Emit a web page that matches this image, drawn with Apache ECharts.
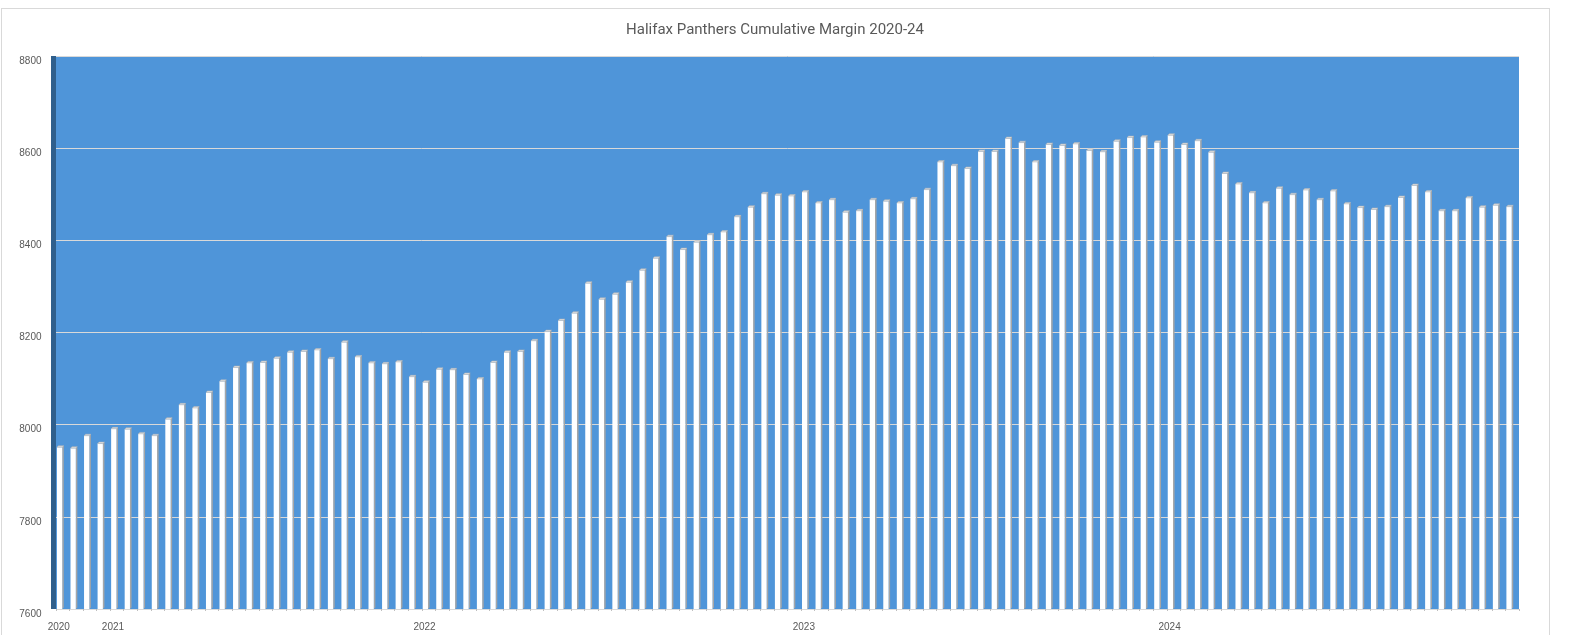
<!DOCTYPE html>
<html>
<head>
<meta charset="utf-8">
<script src="https://cdn.jsdelivr.net/npm/echarts@6/dist/echarts.min.js"></script>
<style>
  html, body { margin: 0; padding: 0; background: #fff; }
  #frame { position: absolute; left: 1px; top: 8px; width: 1549px; height: 700px; border: 1px solid #d9d9d9; box-sizing: border-box; }
  #chart { position: absolute; left: 0; top: 0; width: 1583px; height: 635px; }
</style>
</head>
<body>
<div id="frame"></div>
<div id="chart"></div>
<script>
// cumulative margin after each game, one array per season
const years = ['2020', '2021', '2022', '2023', '2024']
const margin2020 = [7951, 7949, 7976, 7959]
const margin2021 = [7991, 7990, 7980, 7976, 8012, 8043, 8036, 8070, 8094, 8124, 8134, 8135, 8144, 8157,
  8159, 8162, 8143, 8179, 8147, 8134, 8132, 8136, 8104]
const margin2022 = [8092, 8120, 8119, 8109, 8099, 8135, 8157, 8159, 8182,
  8202, 8226, 8242, 8307, 8272, 8283, 8309, 8335, 8361, 8408, 8380, 8396, 8412, 8418, 8451, 8472, 8501, 8498, 8496]
const margin2023 = [8505, 8481, 8488, 8461, 8464, 8488, 8485, 8481, 8490, 8510, 8570, 8562, 8556, 8593, 8593, 8621, 8612,
  8570, 8608, 8606, 8609, 8595, 8592, 8615, 8623, 8624, 8613]
const margin2024 = [8628, 8608, 8616, 8591, 8545, 8522, 8503, 8481,
  8513, 8499, 8509, 8488, 8507, 8479, 8471, 8467, 8473, 8493, 8519, 8505, 8464, 8464, 8492, 8472, 8476, 8473]
const yTicks = { min: 7600, max: 8800, step: 200 }

const seasons = [margin2020, margin2021, margin2022, margin2023, margin2024]

// one category per game, labelled with the year only on the season's first game
const categories = []
const values = []
seasons.forEach((games, s) => {
  games.forEach((v, g) => {
    categories.push(years[s] + '-' + (g + 1))
    values.push(v)
  })
})

const chart = echarts.init(document.getElementById('chart'))

// white column with a grey side face and a small cap, like the excel 3d column
const renderBar = (params, api) => {
  const idx = api.value(0)
  const top = api.coord([idx, api.value(1)])
  const base = api.coord([idx, yTicks.min])
  const band = api.size([1, 0])[0]
  const cx = top[0]
  const fl = cx - band * 0.43
  const fr = cx - band * 0.04
  const sr = cx + band * 0.075
  const d = 1.5
  return {
    type: 'group',
    children: [
      { type: 'polygon', shape: { points: [[fr, top[1]], [sr, top[1] - d], [sr, base[1] - d], [fr, base[1]]] }, style: { fill: '#a6a6a6' } },
      { type: 'rect', shape: { x: fl, y: top[1], width: fr - fl, height: base[1] - top[1] }, style: { fill: '#ffffff' } },
      { type: 'polygon', shape: { points: [[fl, top[1]], [fr, top[1]], [sr, top[1] - d], [fl + (sr - fr), top[1] - d]] }, style: { fill: '#dedede', stroke: '#b5b5b5', lineWidth: 0.5 } }
    ]
  }
}

const option = {
  animation: false,
  title: {
    text: 'Halifax Panthers Cumulative Margin 2020-24',
    left: 775,
    top: 23,
    textAlign: 'center',
    padding: 0,
    textStyle: {
      color: '#595959',
      fontSize: 15,
      fontWeight: 'normal',
      fontFamily: 'Roboto, sans-serif'
    }
  },
  grid: {
    left: 56,
    right: 64,
    top: 56,
    bottom: 26,
    show: true,
    backgroundColor: '#4f95d9',
    borderWidth: 0
  },
  xAxis: {
    type: 'category',
    data: categories,
    axisLine: { show: false },
    axisTick: {
      show: true,
      interval: 0,
      length: 2,
      lineStyle: { color: '#bfbfbf' }
    },
    axisLabel: {
      interval: 0,
      margin: 13,
      padding: [0, 8, 0, 0],
      color: '#595959',
      fontSize: 10,
      fontFamily: "'Liberation Sans', Arial, sans-serif",
      formatter: (val) => val.endsWith('-1') ? val.split('-')[0] : ''
    }
  },
  yAxis: {
    type: 'value',
    min: yTicks.min,
    max: yTicks.max,
    interval: yTicks.step,
    offset: 2.5,
    axisLine: {
      show: true,
      lineStyle: { color: '#2f5f8c', width: 5, cap: 'butt' }
    },
    axisTick: { show: false },
    axisLabel: {
      margin: 12,
      verticalAlign: 'top',
      color: '#595959',
      fontSize: 10,
      fontFamily: "'Liberation Sans', Arial, sans-serif",
      formatter: (v) => String(v)
    },
    splitLine: {
      show: true,
      lineStyle: { color: '#d9d9d9', width: 1 }
    }
  },
  series: [
    {
      name: 'Cumulative margin',
      type: 'custom',
      renderItem: renderBar,
      encode: { x: 0, y: 1 },
      data: values.map((v, i) => [i, v])
    }
  ]
}

chart.setOption(option)
</script>
</body>
</html>
